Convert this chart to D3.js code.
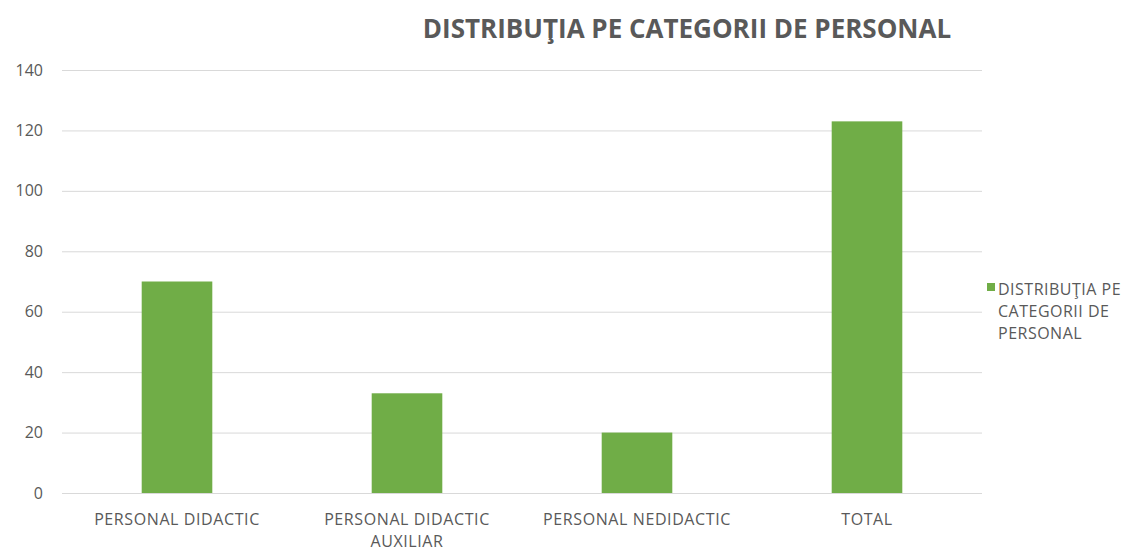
<!DOCTYPE html>
<html>
<head>
<meta charset="utf-8">
<script src="https://cdn.jsdelivr.net/npm/d3@7"></script>
<style>
    body { margin: 0; background: #fff; }
    text { font-family: 'Open Sans', sans-serif; fill: #595959; }
</style>
</head>
<body>
<div id="chart"></div>
<script>
// chart data
var categories = ['PERSONAL DIDACTIC', 'PERSONAL DIDACTIC AUXILIAR', 'PERSONAL NEDIDACTIC', 'TOTAL'];
var categoryLines = [['PERSONAL DIDACTIC'], ['PERSONAL DIDACTIC', 'AUXILIAR'], ['PERSONAL NEDIDACTIC'], ['TOTAL']];
var values = [70, 33, 20, 123];
var yTicks = [0, 20, 40, 60, 80, 100, 120, 140];
var chartTitle = 'DISTRIBUŢIA PE CATEGORII DE PERSONAL';
var legendLines = ['DISTRIBUŢIA PE', 'CATEGORII DE', 'PERSONAL'];

var svgWidth = 1130;
var svgHeight = 552;

var plot = { left: 62, right: 982, top: 70, bottom: 493 };

var svg = d3.select('#chart')
    .append('svg')
    .attr('width', svgWidth)
    .attr('height', svgHeight);

var xScale = d3.scaleBand()
    .domain(categories)
    .range([plot.left, plot.right])
    .paddingInner(0.693)
    .paddingOuter(0.3465);

var yScale = d3.scaleLinear()
    .domain([0, 140])
    .range([plot.bottom, plot.top]);

// gridlines + y labels
var leftAxis = d3.axisLeft(yScale)
    .tickValues(yTicks)
    .tickSize(-(plot.right - plot.left))
    .tickPadding(19);

var yAxis = svg.append('g')
    .attr('transform', `translate(${plot.left},0)`)
    .call(leftAxis);

yAxis.select('.domain').remove();
yAxis.selectAll('.tick line')
    .attr('stroke', '#d9d9d9')
    .attr('stroke-width', 1);
yAxis.selectAll('.tick text')
    .attr('font-size', 16)
    .style('font-family', "'Open Sans', sans-serif")
    .attr('fill', '#595959');

// bars
svg.append('g')
    .selectAll('rect')
    .data(values)
    .enter()
    .append('rect')
    .attr('x', (d, i) => xScale(categories[i]))
    .attr('y', d => yScale(d))
    .attr('width', xScale.bandwidth())
    .attr('height', d => yScale(0) - yScale(d))
    .attr('fill', '#70ad47');

// category labels
var catGroup = svg.append('g');
categoryLines.forEach(function (lines, i) {
    var cx = xScale(categories[i]) + xScale.bandwidth() / 2;
    var t = catGroup.append('text')
        .attr('x', cx)
        .attr('y', 525)
        .attr('text-anchor', 'middle')
        .attr('font-size', 16)
        .attr('letter-spacing', 0.6);
    lines.forEach(function (line, j) {
        t.append('tspan')
            .attr('x', cx)
            .attr('dy', j === 0 ? 0 : 22)
            .text(line);
    });
});

// title
svg.append('text')
    .attr('x', 687)
    .attr('y', 38)
    .attr('text-anchor', 'middle')
    .attr('font-size', 26)
    .attr('font-weight', 'bold')
    .text(chartTitle);

// legend
var legend = svg.append('g');
legend.append('rect')
    .attr('x', 987)
    .attr('y', 283)
    .attr('width', 8)
    .attr('height', 8)
    .attr('fill', '#70ad47');

legend.selectAll('text')
    .data(legendLines)
    .enter()
    .append('text')
    .attr('x', 998)
    .attr('y', (d, i) => 295 + i * 22)
    .attr('font-size', 16)
    .attr('letter-spacing', 0.5)
    .text(d => d);
</script>
</body>
</html>
